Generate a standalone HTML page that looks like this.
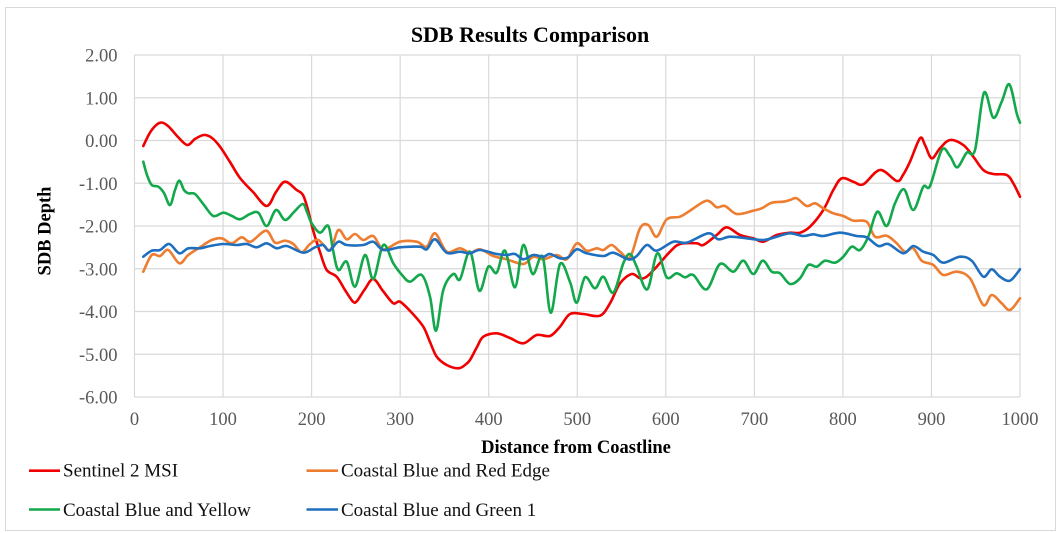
<!DOCTYPE html>
<html>
<head>
<meta charset="utf-8">
<style>
html,body{margin:0;padding:0;background:#fff;}
svg{display:block;}
text{font-family:"Liberation Serif","Times New Roman",serif;}
</style>
</head>
<body>
<svg id="chart" width="1061" height="533" viewBox="0 0 1061 533" xmlns="http://www.w3.org/2000/svg">
<rect x="0" y="0" width="1061" height="533" fill="#fff"/>
<rect x="5.5" y="7.5" width="1050" height="523" fill="none" stroke="#D9D9D9" stroke-width="1"/>

<!-- gridlines -->
<g stroke="#D9D9D9" stroke-width="1.2" fill="none">
<line x1="134.5" y1="55" x2="1020" y2="55"/>
<line x1="134.5" y1="97.75" x2="1020" y2="97.75"/>
<line x1="134.5" y1="140.5" x2="1020" y2="140.5"/>
<line x1="134.5" y1="183.25" x2="1020" y2="183.25"/>
<line x1="134.5" y1="226" x2="1020" y2="226"/>
<line x1="134.5" y1="268.75" x2="1020" y2="268.75"/>
<line x1="134.5" y1="311.5" x2="1020" y2="311.5"/>
<line x1="134.5" y1="354.25" x2="1020" y2="354.25"/>
<line x1="134.5" y1="397" x2="1020" y2="397"/>
<line x1="134.5" y1="55" x2="134.5" y2="397"/>
<line x1="223.05" y1="55" x2="223.05" y2="397"/>
<line x1="311.6" y1="55" x2="311.6" y2="397"/>
<line x1="400.15" y1="55" x2="400.15" y2="397"/>
<line x1="488.7" y1="55" x2="488.7" y2="397"/>
<line x1="577.25" y1="55" x2="577.25" y2="397"/>
<line x1="665.8" y1="55" x2="665.8" y2="397"/>
<line x1="754.35" y1="55" x2="754.35" y2="397"/>
<line x1="842.9" y1="55" x2="842.9" y2="397"/>
<line x1="931.45" y1="55" x2="931.45" y2="397"/>
<line x1="1020" y1="55" x2="1020" y2="397"/>
</g>

<!-- title -->
<text x="530" y="42" text-anchor="middle" font-size="22" font-weight="bold" fill="#000">SDB Results Comparison</text>

<!-- y tick labels -->
<g font-size="18.5" fill="#595959" text-anchor="end">
<text x="117.5" y="61.5">2.00</text>
<text x="117.5" y="104.25">1.00</text>
<text x="117.5" y="147">0.00</text>
<text x="117.5" y="189.75">-1.00</text>
<text x="117.5" y="232.5">-2.00</text>
<text x="117.5" y="275.25">-3.00</text>
<text x="117.5" y="318">-4.00</text>
<text x="117.5" y="360.75">-5.00</text>
<text x="117.5" y="403.5">-6.00</text>
</g>

<!-- x tick labels -->
<g font-size="18.5" fill="#595959" text-anchor="middle">
<text x="134.5" y="425">0</text>
<text x="223.05" y="425">100</text>
<text x="311.6" y="425">200</text>
<text x="400.15" y="425">300</text>
<text x="488.7" y="425">400</text>
<text x="577.25" y="425">500</text>
<text x="665.8" y="425">600</text>
<text x="754.35" y="425">700</text>
<text x="842.9" y="425">800</text>
<text x="931.45" y="425">900</text>
<text x="1020" y="425">1000</text>
</g>

<!-- axis titles -->
<text x="576" y="453" text-anchor="middle" font-size="18.5" font-weight="bold" fill="#000">Distance from Coastline</text>
<text transform="translate(50.5,231) rotate(-90)" text-anchor="middle" font-size="18.5" font-weight="bold" fill="#000">SDB Depth</text>

<!-- series -->
<g fill="none" stroke-width="2.6" stroke-linejoin="round" stroke-linecap="round">
<polyline class="s" stroke="#F00000" points="143.3,146 151,131 160,122.7 168,126 178,137 187.3,145 195,139 204,135 212,138 220,146.7 230,162 240,178 253,192 266.7,206 276,192 285,181.7 296.7,190 303,195 308,210 313,230 320,252 326.7,270 336.7,276.7 345,290 353,301.7 357,301 365,289 373.3,279 383,291 393.3,303.3 400,301.7 412,313 423.3,326.7 430,342 436.7,356.7 446.7,365 458.3,368.3 465,365 470,360 477,347 483.3,336.7 496.7,333.3 510,338 523.3,343.3 536.7,335 550,336 560,326.7 570,314 583.3,314 600,315.7 610,303.3 620,283.3 631.7,274 640,278.3 646.7,276.7 656.7,266.7 670,251.7 680,244 696.7,243.3 703.3,245 716.7,235 726.7,227.3 740,235 753.3,238.3 763.3,241.7 776.7,235 790,232.7 800,232.7 810,226.7 823.3,210 833.3,190 841.7,178.3 853.3,181.7 863.3,184.3 880,170 896.7,181 903,175 910,161.7 920,138.3 925,145 931.7,158.3 940,148.3 950,140 963.3,145 973.3,156.7 983.3,170 993.3,174 1006.7,175 1013.3,183.3 1020,196.7"/>
<polyline class="s" stroke="#ED7D31" points="143.3,271.7 151.7,255 160,256 168.3,250 179.3,263.3 188.3,255 200,247.3 211.7,240 221.7,238.3 231.7,243.3 241.7,237.3 250.7,241.7 266,230.7 275,242.7 285,240.7 293.3,244 301.7,252.3 310,244 318.3,240 330,250 338.3,230 346.7,239.3 355,234 363.3,240 373.3,236 383.3,249.3 400,241.7 416.7,241.7 426.7,246.7 435,233.3 446.7,251.7 460,248.3 470,252.7 480,249.3 493.3,256 506.7,259.3 523.3,264 533.3,256.7 543.3,259.3 556.7,255 566.7,259.3 576.7,243.3 586.7,250.7 596.7,248.3 603.3,250 611.7,245 620,251.7 630,257.3 640,228.3 648.3,225 656.7,236.7 666.7,219.3 680,216.7 690,210.7 706.7,200.7 716.7,207.3 725,206 736.7,214 753.3,210.7 761.7,208.3 771.7,202.7 783.3,201.7 790,200 796.7,198.3 806.7,206 815,203.3 823.3,208.3 833.3,213.3 843.3,216 853.3,220.7 866.7,221.7 875,236.7 886.7,235.7 896.7,243.3 905,251.7 913.3,248.3 921.7,260.7 933.3,265 943.3,275 956.7,271.7 970,278.3 983.3,305 991.7,295 1001.7,303.3 1010,310 1020,298.3"/>
<polyline class="s" stroke="#12A84B" points="143.3,161.7 147,175 151.7,185 158.3,186.7 164,193 170,205 175,190 179.3,180.7 184,190 188.3,193.3 195,194 204,205 213.3,216 223.3,212.7 232,216 240,219.3 250,214 258.3,212.7 266.7,226 276,210 285,220 294,212 302.7,204 307,212 311.7,223.3 320,232.7 328.3,226 333,250 338.3,270 346.7,261.7 355,286.7 365,255 373.3,279 383.3,245 393.3,263.3 402,275 410,281.7 421.7,275 430,296.7 436,330.7 443.3,290 453.3,274 460,279.3 470,251.7 479.3,290.7 488.3,266.7 496.7,272.7 505,250.7 515,287.3 523.3,245 532.7,274 542.7,256.7 550.7,312.7 560,264 570,282 576.7,302.7 585,277.3 595,288.3 603.3,276.7 613.3,292.7 623.3,263.3 630,254 636.7,266.7 647.3,289.3 657.3,253.3 666.7,277.3 676.7,273.3 685,277.3 693.3,275 706.7,289.3 720,264 733.3,271.7 743.3,260.7 753.3,274 762.7,260.7 771.7,271.7 780,273.3 790,284 800,278.3 808.3,265 816.7,266.7 825,260.7 835,262.7 843.3,256.7 851.7,246.7 860,250 868.3,236.7 877.3,211.7 886.7,226 895,203.3 904,189.3 913.3,210 923.3,186.7 930,186 941.7,150 950,156 957.3,167.3 966.7,152.7 975,150 984,92.7 993.3,117.7 1001.7,101.7 1009.3,84.3 1016.7,113.3 1020,122.7"/>
<polyline class="s" stroke="#1F6FBF" points="143.3,256.7 151.7,250.7 160,250 169.3,244 179.3,253.3 188.3,248.3 200,248.3 210,246 223.3,244 236.7,245 246.7,244 256.7,247.3 266.7,243.3 276.7,248.3 286.7,246 303.3,252.7 315,247.3 323.3,245 329.3,250.7 338.3,241.7 346.7,245 363.3,245 373.3,241.7 383.3,250 400,247.3 420,246.7 426.7,249.3 435,239.3 446.7,252.7 460,251.7 470,253.3 480,250 496.7,254 506.7,255 515,254 523.3,259.3 533.3,255 543.3,256.7 550,254 560,258.3 568.3,257.3 576.7,249.3 586.7,253.3 603.3,256 613.3,252.7 628.3,259.3 636.7,256 646.7,245 656.7,250.7 673.3,241.7 686.7,242.7 708.3,233.3 718.3,239.3 730,236.7 746.7,238.3 763.3,240 776.7,236.7 790,233.3 803.3,236 813.3,234.3 823.3,236 840,232.7 856.7,236 866.7,237.3 878.3,246 888.3,244 903.3,253.3 913.3,246 923.3,251.7 933.3,255 943.3,262.7 960,256.7 971.7,260.7 983.3,276.7 991.7,269.3 1000,276.7 1010,280.7 1020,269.3"/>
</g>

<!-- legend -->
<g stroke-width="2.6">
<line x1="29" y1="470.7" x2="60" y2="470.7" stroke="#F00000"/>
<line x1="306.5" y1="470.7" x2="338" y2="470.7" stroke="#ED7D31"/>
<line x1="29" y1="509.5" x2="60" y2="509.5" stroke="#12A84B"/>
<line x1="306.5" y1="509.5" x2="338" y2="509.5" stroke="#1F6FBF"/>
</g>
<g font-size="19" fill="#111">
<text x="63" y="476.5">Sentinel 2 MSI</text>
<text x="341" y="476.5">Coastal Blue and Red Edge</text>
<text x="63" y="516">Coastal Blue and Yellow</text>
<text x="341" y="516">Coastal Blue and Green 1</text>
</g>
</svg>
<script>
(function(){
  var ns="http://www.w3.org/2000/svg";
  var pls=document.querySelectorAll("polyline.s");
  for(var k=0;k<pls.length;k++){
    var pl=pls[k];
    var raw=pl.getAttribute("points").trim().split(/\s+/);
    var p=raw.map(function(s){var a=s.split(",");return [parseFloat(a[0]),parseFloat(a[1])];});
    var d="M"+p[0][0]+","+p[0][1];
    for(var i=0;i<p.length-1;i++){
      var p0=p[i-1]||p[i],p1=p[i],p2=p[i+1],p3=p[i+2]||p[i+1];
      var c1x=p1[0]+(p2[0]-p0[0])/6,c1y=p1[1]+(p2[1]-p0[1])/6;
      var c2x=p2[0]-(p3[0]-p1[0])/6,c2y=p2[1]-(p3[1]-p1[1])/6;
      d+="C"+c1x.toFixed(2)+","+c1y.toFixed(2)+" "+c2x.toFixed(2)+","+c2y.toFixed(2)+" "+p2[0]+","+p2[1];
    }
    var path=document.createElementNS(ns,"path");
    path.setAttribute("d",d);
    path.setAttribute("stroke",pl.getAttribute("stroke"));
    path.setAttribute("fill","none");
    pl.parentNode.replaceChild(path,pl);
  }
})();
</script>
</body>
</html>
